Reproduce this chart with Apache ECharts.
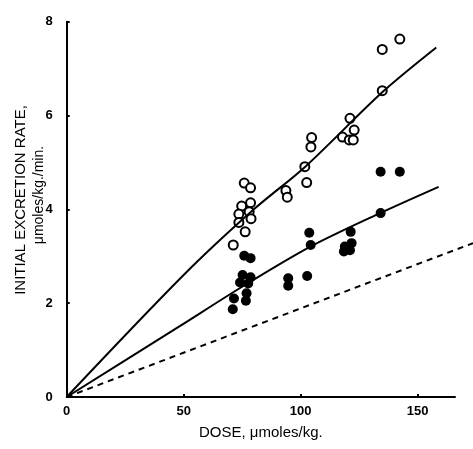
<!DOCTYPE html>
<html>
<head>
<meta charset="utf-8">
<script src="https://cdn.jsdelivr.net/npm/echarts@6/dist/echarts.min.js"></script>
<style>
  html, body { margin: 0; padding: 0; background: #fff; }
  #main { width: 473px; height: 449px; }
</style>
</head>
<body>
<div id="main"></div>
<script>
// open circles
const openDose = [142.4, 134.9, 134.9, 121.1, 122.9, 117.9, 120.8, 122.5, 104.7, 104.4, 101.8, 102.6, 93.7, 94.3,
  75.9, 78.6, 74.8, 78.6, 73.6, 78.0, 73.6, 78.8, 76.3, 71.2]
const openRate = [7.63, 7.41, 6.53, 5.94, 5.69, 5.54, 5.48, 5.48, 5.53, 5.33, 4.91, 4.57, 4.40, 4.26,
  4.56, 4.46, 4.07, 4.14, 3.90, 3.95, 3.72, 3.80, 3.52, 3.24]

// filled circles
const filledDose = [134.2, 142.4, 134.2, 121.4, 121.8, 118.9, 118.5, 121.1, 103.7, 104.3, 102.8, 94.7, 94.7,
  75.9, 78.6, 75.2, 78.6, 74.1, 77.6, 76.9, 76.6, 71.5, 71.0]
const filledRate = [4.80, 4.80, 3.92, 3.52, 3.28, 3.21, 3.10, 3.13, 3.50, 3.24, 2.58, 2.53, 2.37,
  3.01, 2.96, 2.60, 2.55, 2.44, 2.42, 2.21, 2.05, 2.10, 1.87]

// fitted curves
const upperDose = [0, 50, 80, 102, 135, 158]
const upperRate = [0, 2.6, 4.0, 4.91, 6.5, 7.45]
const lowerDose = [0, 48, 75, 104, 134, 159]
const lowerRate = [0, 1.5, 2.35, 3.2, 3.92, 4.48]
const dashDose = [0, 174]
const dashRate = [0, 3.28]

const xTicks = [0, 50, 100, 150]
const yTicks = [0, 2, 4, 6, 8]

const pairs = (xs, ys) => xs.map((x, i) => [x, ys[i]])

const chart = echarts.init(document.getElementById('main'))
const tickFont = { color: '#000', fontFamily: 'Liberation Sans', fontWeight: 'bold', fontSize: 13 }

chart.setOption({
  animation: false,
  grid: [
    { left: 66.7, right: 18, top: 21.7, bottom: 52 },
    // wider grid so the dashed line runs past the end of the axis
    { left: 66.7, right: 0, top: 21.7, bottom: 52 }
  ],
  xAxis: [{
    type: 'value', min: 0, max: 166, interval: 50,
    axisLine: { lineStyle: { color: '#000', width: 2 } },
    axisTick: { inside: true, length: 3, lineStyle: { color: '#000', width: 2 } },
    splitLine: { show: false },
    axisLabel: Object.assign({ margin: 8, showMaxLabel: false,
      formatter: v => xTicks.includes(v) ? String(v) : '' }, tickFont),
    name: 'DOSE, μmoles/kg.', nameLocation: 'middle', nameGap: 28,
    nameTextStyle: { color: '#000', fontFamily: 'Liberation Sans', fontSize: 15 }
  }, {
    gridIndex: 1, type: 'value', min: 0, max: 174, show: false
  }],
  yAxis: [{
    type: 'value', min: 0, max: 8, interval: 2,
    axisLine: { lineStyle: { color: '#000', width: 2 } },
    axisTick: { inside: true, length: 3, lineStyle: { color: '#000', width: 2 } },
    splitLine: { show: false },
    axisLabel: Object.assign({ margin: 14,
      formatter: v => yTicks.includes(v) ? String(v) : '' }, tickFont)
  }, {
    gridIndex: 1, type: 'value', min: 0, max: 8, show: false
  }],
  graphic: [
    {
      type: 'text', x: 21, y: 200, rotation: Math.PI / 2,
      style: { text: 'INITIAL EXCRETION RATE,', fill: '#000', font: '500 15px "Liberation Sans"',
        textAlign: 'center', textVerticalAlign: 'middle' }
    },
    {
      type: 'text', x: 39, y: 195, rotation: Math.PI / 2,
      style: { text: 'μmoles/kg./min.', fill: '#000', font: '14px "Liberation Sans"',
        textAlign: 'center', textVerticalAlign: 'middle' }
    }
  ],
  series: [
    {
      type: 'line', data: pairs(upperDose, upperRate), smooth: 0.3, symbol: 'none',
      lineStyle: { color: '#000', width: 2 }
    },
    {
      type: 'line', data: pairs(lowerDose, lowerRate), smooth: 0.3, symbol: 'none',
      lineStyle: { color: '#000', width: 2 }
    },
    {
      type: 'line', xAxisIndex: 1, yAxisIndex: 1, data: pairs(dashDose, dashRate), symbol: 'none',
      lineStyle: { color: '#000', width: 2, type: [6, 5] }
    },
    {
      type: 'scatter', data: pairs(openDose, openRate), symbol: 'circle', symbolSize: 9,
      itemStyle: { color: '#fff', borderColor: '#000', borderWidth: 2, opacity: 1 }
    },
    {
      type: 'scatter', data: pairs(filledDose, filledRate), symbol: 'circle', symbolSize: 10,
      itemStyle: { color: '#000', opacity: 1 }
    }
  ]
})
</script>
</body>
</html>
